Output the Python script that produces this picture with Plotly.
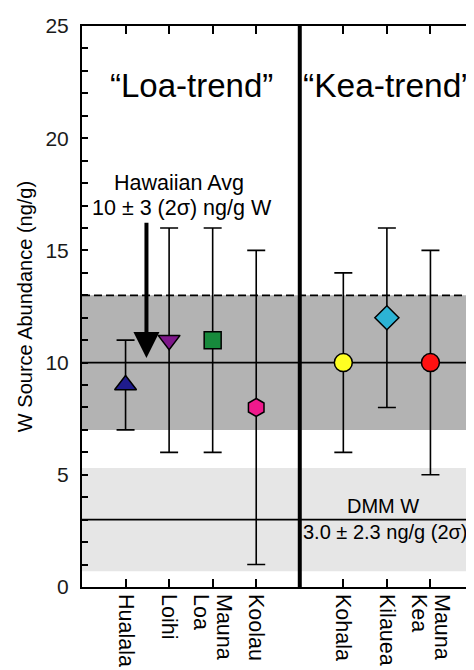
import plotly.graph_objects as go

# Data
volcanoes = ["Hualala", "Loihi", "Mauna Loa", "Koolau", "Kohala", "Kilauea", "Mauna Kea"]
positions = [1, 2, 3, 4, 6, 7, 8]
w_source = [9, 11, 11, 8, 10, 12, 10]
err_low = [7, 6, 6, 1, 6, 8, 5]
err_high = [11, 16, 16, 15, 14, 16, 15]
symbols = ["triangle-up", "triangle-down", "square", "hexagon", "circle", "diamond", "circle"]
colors = ["#1f1b8c", "#7e178a", "#178a3c", "#f0198c", "#ffff22", "#2cb3d5", "#ff1111"]
sizes = [19, 19, 17, 18, 18, 18.5, 18]

hawaii_avg, hawaii_err = 10, 3
dmm_avg, dmm_err = 3.0, 2.3
divider_x = 5
y_ticks = [0, 5, 10, 15, 20, 25]

FONT = "Liberation Sans, Arial, sans-serif"

# Tick labels: multi-word names are stacked as two tight rotated lines
label_vals, label_text = [], []
line_offset = 0.266
for pos, name in zip(positions, volcanoes):
    words = name.split(" ")
    if len(words) == 2:
        label_vals += [pos + line_offset, pos - line_offset]
        label_text += words
    else:
        label_vals.append(pos)
        label_text.append(name)

fig = go.Figure()

# Shaded bands and reference lines
fig.add_shape(type="rect", xref="paper", yref="y", x0=0, x1=1,
              y0=hawaii_avg - hawaii_err, y1=hawaii_avg + hawaii_err,
              fillcolor="#b3b3b3", line_width=0, layer="below")
fig.add_shape(type="rect", xref="paper", yref="y", x0=0, x1=1,
              y0=dmm_avg - dmm_err, y1=dmm_avg + dmm_err,
              fillcolor="#e6e6e6", line_width=0, layer="below")
fig.add_shape(type="line", xref="paper", yref="y", x0=0, x1=1,
              y0=hawaii_avg, y1=hawaii_avg, line=dict(color="black", width=1.8), layer="below")
fig.add_shape(type="line", xref="paper", yref="y", x0=0, x1=1,
              y0=hawaii_avg + hawaii_err, y1=hawaii_avg + hawaii_err,
              line=dict(color="black", width=1.8, dash="8px,4px"), layer="below")
fig.add_shape(type="line", xref="paper", yref="y", x0=0, x1=1,
              y0=dmm_avg, y1=dmm_avg, line=dict(color="black", width=1.8), layer="below")
# Divider
fig.add_shape(type="line", xref="x", yref="paper", x0=divider_x, x1=divider_x,
              y0=0, y1=1, line=dict(color="black", width=4))

for i in range(len(volcanoes)):
    fig.add_trace(go.Scatter(
        x=[positions[i]], y=[w_source[i]], mode="markers",
        marker=dict(symbol=symbols[i], size=sizes[i], color=colors[i],
                    line=dict(color="black", width=1.5)),
        error_y=dict(type="data", symmetric=False,
                     array=[err_high[i] - w_source[i]],
                     arrayminus=[w_source[i] - err_low[i]],
                     color="black", thickness=1.6, width=9),
        showlegend=False, cliponaxis=False, hoverinfo="skip"))

# invisible trace to carry the label axis
fig.add_trace(go.Scatter(x=positions, y=w_source, xaxis="x2", mode="markers",
                         marker=dict(opacity=0), showlegend=False, hoverinfo="skip"))

# Annotations
fig.add_annotation(x=2.52, y=22.33, xref="x", yref="y", text="\u201cLoa-trend\u201d",
                   showarrow=False, font=dict(family=FONT, size=33, color="black"))
fig.add_annotation(x=5.02, y=22.33, xref="x", yref="y", text="\u201cKea-trend\u201d",
                   showarrow=False, xanchor="left", font=dict(family=FONT, size=33.5, color="black"))
fig.add_annotation(x=2.23, y=18.0, xref="x", yref="y", text="Hawaiian Avg",
                   showarrow=False, font=dict(family=FONT, size=21.5, color="black"))
fig.add_annotation(x=2.29, y=16.9, xref="x", yref="y", text="10 \u00b1 3 (2\u03c3) ng/g W",
                   showarrow=False, font=dict(family=FONT, size=21.5, color="black"))
fig.add_annotation(x=1.48, y=10.2, ax=1.48, ay=16.3, xref="x", yref="y", axref="x", ayref="y",
                   text="", showarrow=True, arrowhead=2, arrowsize=1.3, arrowwidth=4,
                   arrowcolor="black")
fig.add_annotation(x=6.9, y=3.63, xref="x", yref="y", text="DMM W",
                   showarrow=False, font=dict(family=FONT, size=20, color="black"))
fig.add_annotation(x=6.96, y=2.45, xref="x", yref="y", text="3.0 \u00b1 2.3 ng/g (2\u03c3)",
                   showarrow=False, font=dict(family=FONT, size=20, color="black"))

fig.update_layout(
    width=474, height=670,
    margin=dict(l=74, r=6, t=15, b=91),
    paper_bgcolor="white", plot_bgcolor="white",
    font=dict(family=FONT, color="black"),
    xaxis=dict(range=[0, 9], tickvals=positions, showticklabels=False,
               ticks="inside", ticklen=8, tickwidth=1.6, tickcolor="black",
               showline=True, linecolor="black", linewidth=2, mirror="ticks",
               showgrid=False, zeroline=False),
    xaxis2=dict(range=[0, 9], overlaying="x", anchor="y", side="bottom",
                tickvals=label_vals, ticktext=label_text, tickangle=90, ticks="",
                showline=False, showgrid=False, zeroline=False,
                ticklabelstandoff=6,
                tickfont=dict(family=FONT, size=21.5, color="black")),
    yaxis=dict(range=[0, 25], tickvals=y_ticks,
               ticks="inside", ticklen=6, tickwidth=1.6, tickcolor="black",
               showline=True, linecolor="black", linewidth=2, mirror="ticks",
               showgrid=False, zeroline=False, ticklabelstandoff=7,
               minor=dict(dtick=1, ticks="inside", ticklen=6, tickwidth=1.6, tickcolor="black"),
               tickfont=dict(family=FONT, size=21, color="#1a1a1a"),
               title=dict(text="W Source Abundance (ng/g)", standoff=7,
                          font=dict(family=FONT, size=20, color="black"))),
)

fig.write_html("out.html")
